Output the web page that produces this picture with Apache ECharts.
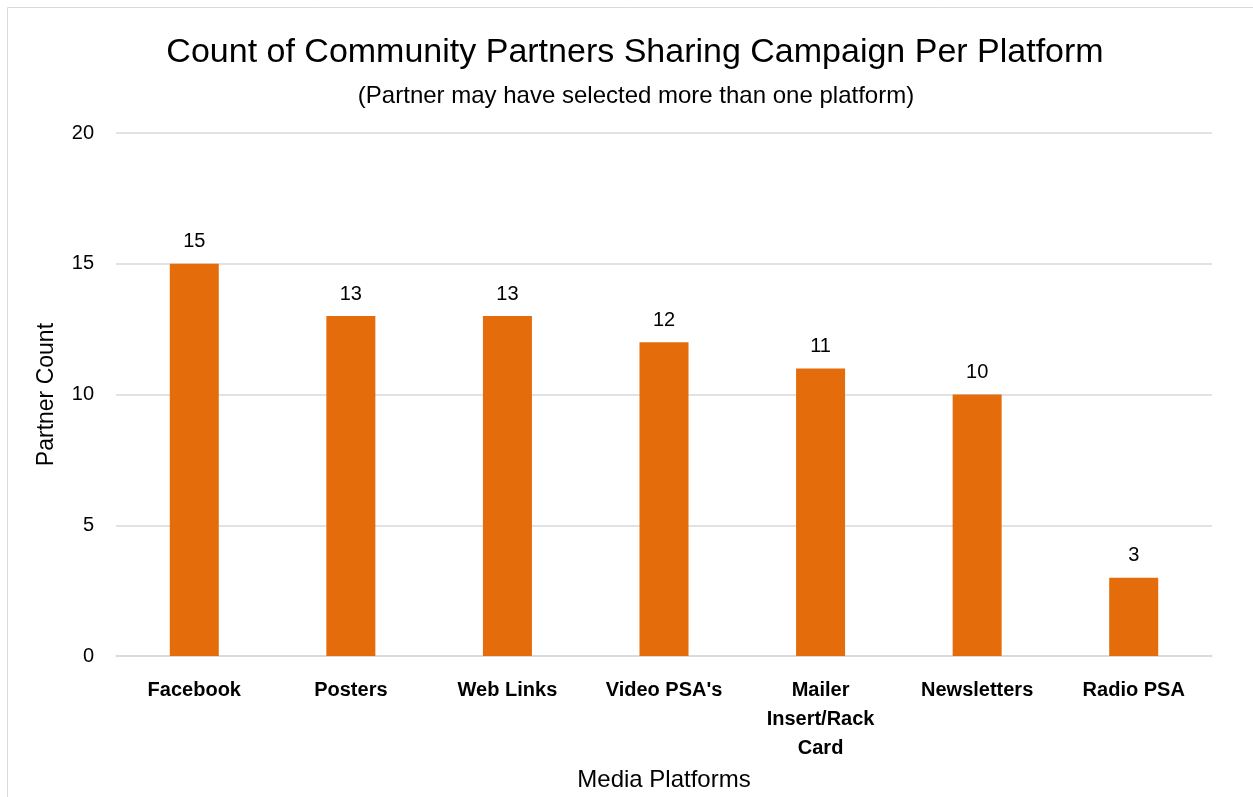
<!DOCTYPE html>
<html><head><meta charset="utf-8">
<script src="https://cdn.jsdelivr.net/npm/echarts@6/dist/echarts.min.js"></script>
<style>
html,body{margin:0;padding:0;background:#fff;overflow:hidden}
#c{position:absolute;left:0;top:0;width:1253px;height:797px}
</style></head><body>
<div id="c"></div>
<script>
const categories = ["Facebook","Posters","Web Links","Video PSA's","Mailer\nInsert/Rack\nCard","Newsletters","Radio PSA"];
const counts = [15,13,13,12,11,10,3];
const yTicks = [0,5,10,15,20];
const FONT = "Liberation Sans";
const chart = echarts.init(document.getElementById('c'));
chart.setOption({
  animation:false,
  textStyle:{fontFamily:FONT},
  graphic:[
    {type:'line',shape:{x1:7.5,y1:7.5,x2:1253,y2:7.5},style:{stroke:'#d9d9d9',lineWidth:1},silent:true},
    {type:'line',shape:{x1:7.5,y1:7.5,x2:7.5,y2:797},style:{stroke:'#d9d9d9',lineWidth:1},silent:true}
  ],
  title:[
    {text:"Count of Community Partners Sharing Campaign Per Platform",left:630,top:31,textAlign:'center',
     textStyle:{fontFamily:FONT,fontSize:34,fontWeight:'normal',color:'#000'}},
    {text:"(Partner may have selected more than one platform)",left:631,top:79,textAlign:'center',
     textStyle:{fontFamily:FONT,fontSize:24,fontWeight:'normal',color:'#000'}}
  ],
  grid:{left:116,right:41,top:133,bottom:135},
  xAxis:{type:'category',data:categories,
    axisLine:{lineStyle:{color:'#d9d9d9',width:1.5}},axisTick:{show:false},
    axisLabel:{color:'#000',fontWeight:'bold',fontSize:20,lineHeight:29,margin:20,interval:0},
    name:"Media Platforms",nameLocation:'middle',nameGap:108,
    nameTextStyle:{color:'#000',fontSize:24}},
  yAxis:{type:'value',min:yTicks[0],max:yTicks[yTicks.length-1],interval:5,
    axisLine:{show:false},axisTick:{show:false},
    splitLine:{lineStyle:{color:'#d9d9d9',width:1.5}},
    axisLabel:{color:'#000',fontSize:20,margin:22},
    name:"Partner Count",nameLocation:'middle',nameGap:58,
    nameTextStyle:{color:'#000',fontSize:23}},
  series:[{type:'bar',data:counts,barWidth:49,
    itemStyle:{color:'#E46C0A'},
    label:{show:true,position:'top',distance:12,color:'#000',fontSize:20}}]
});
</script></body></html>
